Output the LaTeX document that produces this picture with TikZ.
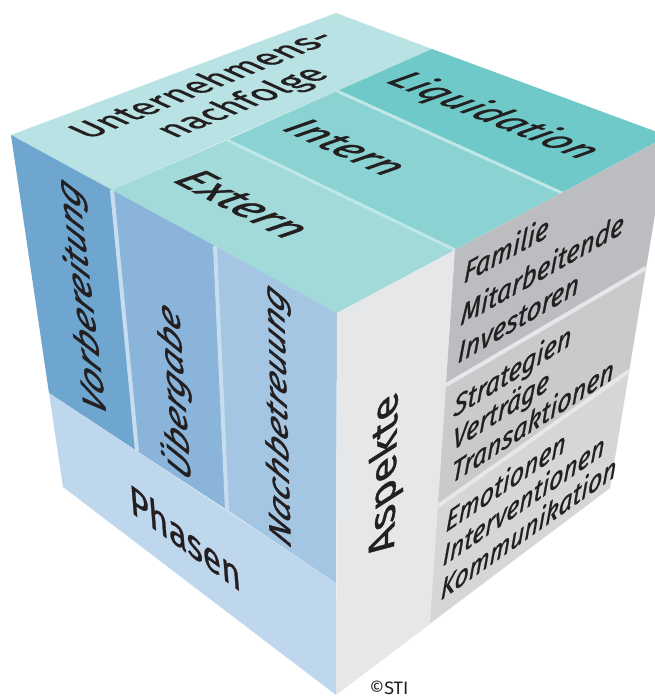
\documentclass[tikz,border=0pt]{standalone}
\usepackage{fontspec}
\newfontfamily\dinfont{Fira Sans}[FakeBold=0.9]
\newfontfamily\dinlight{Fira Sans}
\definecolor{cUnt}{HTML}{B8E2E3}
\definecolor{cExt}{HTML}{A2DAD9}
\definecolor{cInt}{HTML}{8BD3D2}
\definecolor{cLiq}{HTML}{6FC9C9}
\definecolor{cSepTop}{HTML}{C0E7E7}
\definecolor{cVor}{HTML}{6EA6CF}
\definecolor{cUeb}{HTML}{8AB4D9}
\definecolor{cNach}{HTML}{A4C6E3}
\definecolor{cPha}{HTML}{BFD7EC}
\definecolor{cSepLeft}{HTML}{C6DCEF}
\definecolor{cAsp}{HTML}{E6E7E8}
\definecolor{cPanA}{HTML}{BCBDC0}
\definecolor{cPanB}{HTML}{C9CACC}
\definecolor{cPanC}{HTML}{D5D6D8}
\definecolor{cText}{HTML}{231F20}
\tikzset{
  lbl/.style={transform shape, inner sep=0pt, text=cText},
  septop/.style={draw=cSepTop, line width=3pt},
  sepleft/.style={draw=cSepLeft, line width=4pt},
  sepright/.style={draw=cAsp, line width=4pt},
  bigup/.style={font=\dinfont\fontsize{42}{46}\selectfont},
  panel/.style={anchor=base west, font=\dinfont\itshape\fontsize{30}{33}\selectfont},
}
% #1 name, #2 position, #3 baseline angle, #4 up angle, #5 scale, #6 node options, #7 text
\newcommand\facelabel[7]{%
  \pgfmathsetmacro\flA{#5*cos(#3)}%
  \pgfmathsetmacro\flB{#5*sin(#3)}%
  \pgfmathsetmacro\flC{#5*cos(#4)}%
  \pgfmathsetmacro\flD{#5*sin(#4)}%
  \begin{scope}[shift={#2}]
    \begin{scope}[cm={\flA,\flB,\flC,\flD,(0,0)}]
      \node[lbl,#6] (#1) at (0,0) {#7};
    \end{scope}
  \end{scope}}
\begin{document}
\begin{tikzpicture}[x=1pt,y=1pt]
\useasboundingbox (0,0) rectangle (654,-698);
% cube vertices
\coordinate (T) at (336,-13);
\coordinate (L) at (11,-135);
\coordinate (F) at (337,-313);
\coordinate (R) at (668,-136);
\coordinate (B) at (336,-695);
\coordinate (BL) at (63,-487);
\coordinate (BR) at (610,-488);
% top face division
\coordinate (U1) at (112,-190);
\coordinate (U2) at (432,-49);
\coordinate (S1a) at (227,-140);
\coordinate (S1b) at (455,-250);
\coordinate (S2a) at (337,-91);
\coordinate (S2b) at (562,-193);
% left face division
\coordinate (V2t) at (215,-246);
\coordinate (P0) at (49,-393);
\coordinate (P1) at (137,-451);
\coordinate (P2) at (227,-510);
\coordinate (P3) at (336,-583);
% right face division
\coordinate (Q1) at (446,-385);
\coordinate (Q1r) at (646,-268);
\coordinate (Q2) at (438,-506);
\coordinate (Q2r) at (629,-371);
\coordinate (Q3) at (430,-623);

% top face
\fill[cUnt] (T) -- (U2) -- (U1) -- (L) -- cycle;
\fill[cLiq] (U2) -- (R) -- (S2b) -- (S2a) -- cycle;
\fill[cInt] (S2a) -- (S2b) -- (S1b) -- (S1a) -- cycle;
\fill[cExt] (S1a) -- (S1b) -- (F) -- (U1) -- cycle;
\draw[septop] (S1a) -- (S1b);
\draw[septop] (S2a) -- (S2b);
% left face
\fill[cVor] (L) -- (U1) -- (P1) -- (P0) -- cycle;
\fill[cUeb] (U1) -- (V2t) -- (P2) -- (P1) -- cycle;
\fill[cNach] (V2t) -- (F) -- (P3) -- (P2) -- cycle;
\fill[cPha] (P0) -- (P3) -- (B) -- (BL) -- cycle;
\draw[sepleft] (U1) -- (P1);
\draw[sepleft] (V2t) -- (P2);
% right face
\fill[cAsp] (F) -- (R) -- (BR) -- (B) -- cycle;
\fill[cPanA] (S1b) -- (R) -- (Q1r) -- (Q1) -- cycle;
\fill[cPanB] (Q1) -- (Q1r) -- (Q2r) -- (Q2) -- cycle;
\fill[cPanC] (Q2) -- (Q2r) -- (BR) -- (Q3) -- cycle;
\draw[sepright] (Q1) -- (Q1r);
\draw[sepright] (Q2) -- (Q2r);

% top labels
\facelabel{unt}{(224,-94)}{21.8}{155.5}{1}{align=center, font=\dinfont\fontsize{38}{43}\selectfont}{Unternehmens-\\nachfolge}
\facelabel{ext}{(243,-204)}{-27.3}{25}{1}{font=\dinfont\itshape\fontsize{46}{50}\selectfont}{Extern}
\facelabel{int}{(346,-147)}{-24.5}{25}{1}{font=\dinfont\itshape\fontsize{43}{47}\selectfont}{Intern}
\facelabel{liq}{(493,-116)}{-21.7}{25}{1}{font=\dinfont\itshape\fontsize{41}{45}\selectfont}{Liquidation}
% left labels
\facelabel{vor}{(83,-297)}{97}{148.3}{1}{font=\dinfont\itshape\fontsize{40}{44}\selectfont}{Vorbereitung}
\facelabel{ueb}{(174,-391)}{94}{147}{1}{font=\dinfont\itshape\fontsize{39}{43}\selectfont}{Übergabe}
\facelabel{nach}{(279,-416)}{91.6}{147}{1}{font=\dinfont\itshape\fontsize{37}{41}\selectfont}{Nachbetreuung}
\facelabel{pha}{(185,-537)}{-36}{94.5}{1}{bigup}{Phasen}
% right labels
\facelabel{asp}{(386,-474)}{88.6}{212.7}{1}{font=\dinfont\fontsize{44}{48}\selectfont}{Aspekte}
\facelabel{fam}{(463,-284)}{29}{85.5}{1}{panel}{Familie}
\facelabel{mit}{(460,-326)}{29.7}{85.5}{1}{panel}{Mitarbeitende}
\facelabel{inv}{(457,-364)}{30.4}{85.5}{1}{panel}{Investoren}
\facelabel{str}{(453,-418)}{31.8}{85.5}{1}{panel}{Strategien}
\facelabel{ver}{(452,-451)}{32.4}{85.5}{1}{panel}{Verträge}
\facelabel{tra}{(451,-484)}{33}{85.5}{1}{panel}{Transaktionen}
\facelabel{emo}{(445,-533)}{34.2}{85.5}{1}{panel}{Emotionen}
\facelabel{itv}{(442,-567)}{34.8}{85.5}{1}{panel}{Interventionen}
\facelabel{kom}{(440,-601)}{35.4}{85.5}{1}{panel}{Kommunikation}
% copyright
\node[text=cText, inner sep=0pt, font=\dinlight\fontsize{18}{20}\selectfont] (copy) at (389,-688) {©STI};
\end{tikzpicture}
\end{document}
